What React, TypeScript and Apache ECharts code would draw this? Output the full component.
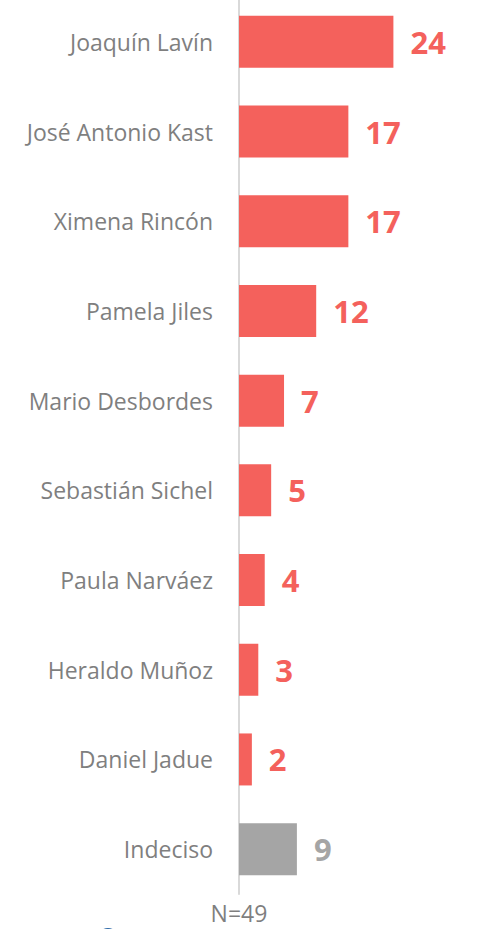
import React, { useEffect, useRef } from "react";
import * as echarts from "echarts";

const categories = [
  "Joaquín Lavín",
  "José Antonio Kast",
  "Ximena Rincón",
  "Pamela Jiles",
  "Mario Desbordes",
  "Sebastián Sichel",
  "Paula Narváez",
  "Heraldo Muñoz",
  "Daniel Jadue",
  "Indeciso",
];
const values = [24, 17, 17, 12, 7, 5, 4, 3, 2, 9];
const sampleNote = "N=49";

const RED = "#f4615c";
const GRAY = "#a5a5a5";

export default function App() {
  const ref = useRef<HTMLDivElement>(null);
  useEffect(() => {
    if (!ref.current) return;
    const chart = echarts.init(ref.current, null, { renderer: "svg" });
    const data = values.map((v, i) => {
      const c = categories[i] === "Indeciso" ? GRAY : RED;
      return {
        value: v,
        itemStyle: { color: c },
        label: { color: c },
      };
    });
    chart.setOption({
      animation: false,
      backgroundColor: "#ffffff",
      grid: { left: 239, top: 0, width: 193, height: 897, containLabel: false },
      xAxis: {
        type: "value",
        min: 0,
        max: 30,
        show: false,
      },
      yAxis: {
        type: "category",
        data: categories,
        inverse: true,
        axisLine: { show: true, lineStyle: { color: "#d9d9d9", width: 2 } },
        axisTick: { show: false },
        axisLabel: {
          color: "#7f7f7f",
          fontSize: 23,
          fontFamily: "Open Sans",
          margin: 26,
        },
      },
      series: [
        {
          type: "bar",
          data,
          barWidth: 52,
          label: {
            show: true,
            position: "right",
            distance: 17,
            fontSize: 31,
            fontWeight: "bold",
            fontFamily: "Open Sans",
          },
        },
      ],
      graphic: [
        {
          type: "text",
          x: 239,
          y: 916,
          style: {
            text: sampleNote,
            fontSize: 23,
            fontFamily: "Open Sans",
            fill: "#7f7f7f",
            textAlign: "center",
            textVerticalAlign: "middle",
          },
        },
        {
          type: "ellipse",
          shape: { cx: 108, cy: 940, rx: 10, ry: 9 },
          style: { fill: "#2e6aa8" },
        },
      ],
    });
    return () => chart.dispose();
  }, []);
  return (
    <div
      ref={ref}
      style={{ position: "fixed", left: 0, top: -3, width: 477, height: 932 }}
    />
  );
}
